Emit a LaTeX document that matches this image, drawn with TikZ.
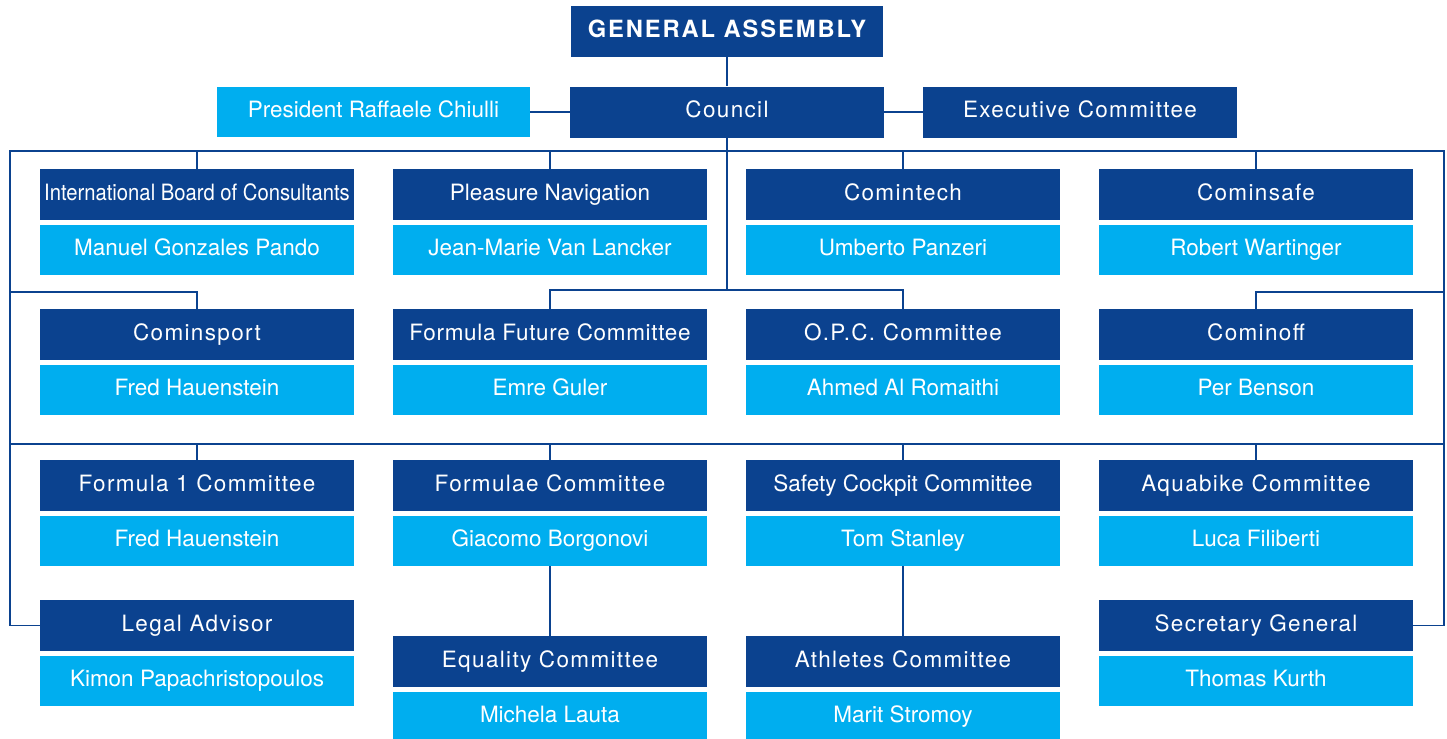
\documentclass[tikz,border=0pt]{standalone}
\usepackage{fontspec}
\usepackage{tikz}
\usetikzlibrary{positioning}
\setmainfont{TeX Gyre Heros}
\newfontfamily\spacedfont[LetterSpace=6]{TeX Gyre Heros}
\newfontfamily\narrowfont[FakeStretch=0.9]{TeX Gyre Heros}
\newfontfamily\assemblyfont[LetterSpace=8]{TeX Gyre Heros}
\newcommand\boxsize{\fontsize{12.8}{15}\selectfont}
\definecolor{fimblue}{RGB}{11,66,143}
\definecolor{fimcyan}{RGB}{0,174,239}

\begin{document}
\begin{tikzpicture}[x=0.02cm, y=-0.02cm,
        head/.style={fill=fimblue, text=white, inner sep=0pt, minimum width=6.28cm, minimum height=1.02cm, text height=9.2pt, text depth=2.6pt, font=\boxsize\spacedfont},
        plainhead/.style={head, font=\boxsize},
        person/.style={fill=fimcyan, text=white, inner sep=0pt, minimum width=6.28cm, minimum height=1.0cm, text height=9.2pt, text depth=2.6pt, font=\boxsize},
        link/.style={draw=fimblue, line width=1.1pt}]
        \useasboundingbox (0,0) rectangle (1447,738);

        % Top
        \node[head, minimum width=6.26cm, font=\fontsize{13.5}{16}\selectfont\assemblyfont\bfseries] (assembly) at (727,31.5) {GENERAL ASSEMBLY};
        \node[head] (council) at (727,112) {Council};
        \node[person, minimum width=6.26cm] (president) at (373.5,112) {President Raffaele Chiulli};
        \node[head] (exec) at (1080,112) {Executive Committee};

        % Row 1
        \node[plainhead, font=\boxsize\narrowfont] (ibc) at (197,194.5) {International Board of Consultants};
        \node[person, below=0.08cm of ibc] (ibcp) {Manuel Gonzales Pando};
        \node[plainhead] (pleasure) at (550,194.5) {Pleasure Navigation};
        \node[person, below=0.08cm of pleasure] (pleasurep) {Jean-Marie Van Lancker};
        \node[head] (comintech) at (903,194.5) {Comintech};
        \node[person, below=0.08cm of comintech] (comintechp) {Umberto Panzeri};
        \node[head] (cominsafe) at (1256,194.5) {Cominsafe};
        \node[person, below=0.08cm of cominsafe] (cominsafep) {Robert Wartinger};

        % Row 2
        \node[head] (cominsport) at (197,334.5) {Cominsport};
        \node[person, below=0.08cm of cominsport] (cominsportp) {Fred Hauenstein};
        \node[head, font=\boxsize\addfontfeature{LetterSpace=3}] (ffc) at (550,334.5) {Formula Future Committee};
        \node[person, below=0.08cm of ffc] (ffcp) {Emre Guler};
        \node[head] (opc) at (903,334.5) {O.P.C. Committee};
        \node[person, below=0.08cm of opc] (opcp) {Ahmed Al Romaithi};
        \node[head] (cominoff) at (1256,334.5) {Cominoff};
        \node[person, below=0.08cm of cominoff] (cominoffp) {Per Benson};

        % Row 3
        \node[head] (fone) at (197,485.5) {Formula 1 Committee};
        \node[person, below=0.08cm of fone] (fonep) {Fred Hauenstein};
        \node[head] (formulae) at (550,485.5) {Formulae Committee};
        \node[person, below=0.08cm of formulae] (formulaep) {Giacomo Borgonovi};
        \node[plainhead] (safety) at (903,485.5) {Safety Cockpit Committee};
        \node[person, below=0.08cm of safety] (safetyp) {Tom Stanley};
        \node[head] (aquabike) at (1256,485.5) {Aquabike Committee};
        \node[person, below=0.08cm of aquabike] (aquabikep) {Luca Filiberti};

        % Row 4
        \node[head] (legal) at (197,625.5) {Legal Advisor};
        \node[person, below=0.08cm of legal] (legalp) {Kimon Papachristopoulos};
        \node[head] (equality) at (550,661.5) {Equality Committee};
        \node[person, below=0.08cm of equality] (equalityp) {Michela Lauta};
        \node[head] (athletes) at (903,661.5) {Athletes Committee};
        \node[person, below=0.08cm of athletes] (athletesp) {Marit Stromoy};
        \node[head] (secgen) at (1256,625.5) {Secretary General};
        \node[person, below=0.08cm of secgen] (secgenp) {Thomas Kurth};

        % Bus points
        \coordinate (topL) at (10,151);
        \coordinate (topR) at (1444,151);
        \coordinate (midL) at (10,292);
        \coordinate (midR) at (1444,292);
        \coordinate (midC) at (727,290);
        \coordinate (lowL) at (10,444);
        \coordinate (lowR) at (1444,444);

        % Lines
        \draw[link] (assembly) -- (council);
        \draw[link] (president) -- (council);
        \draw[link] (council) -- (exec);
        \draw[link] (council) -- (midC);
        \draw[link] (legal.west) -| (topL) -- (topR) |- (secgen.east);
        \draw[link] (lowL) -- (lowR);

        \draw[link] (ibc.north) -- (ibc.north |- topL);
        \draw[link] (pleasure.north) -- (pleasure.north |- topL);
        \draw[link] (comintech.north) -- (comintech.north |- topL);
        \draw[link] (cominsafe.north) -- (cominsafe.north |- topL);

        \draw[link] (cominsport.north) |- (midL);
        \draw[link] (ffc.north) |- (midC) -| (opc.north);
        \draw[link] (cominoff.north) |- (midR);

        \draw[link] (fone.north) -- (fone.north |- lowL);
        \draw[link] (formulae.north) -- (formulae.north |- lowL);
        \draw[link] (safety.north) -- (safety.north |- lowL);
        \draw[link] (aquabike.north) -- (aquabike.north |- lowL);

        \draw[link] (formulaep) -- (equality);
        \draw[link] (safetyp) -- (athletes);
    \end{tikzpicture}
\end{document}
